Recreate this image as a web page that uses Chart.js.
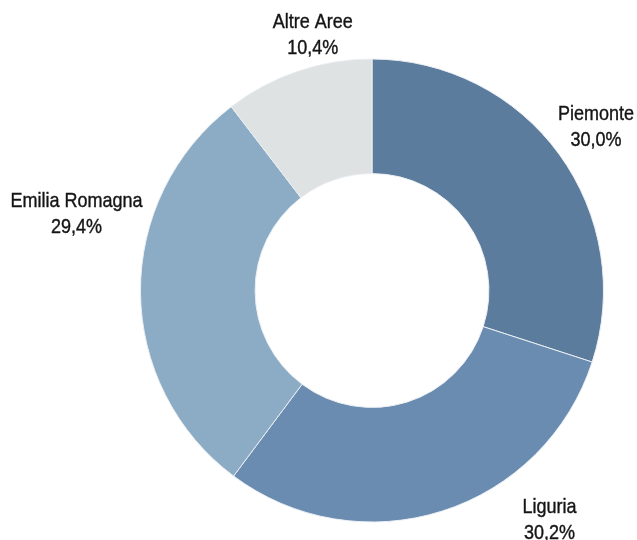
<!DOCTYPE html>
<html><head><meta charset="utf-8">
<script src="https://cdn.jsdelivr.net/npm/chart.js@4/dist/chart.umd.min.js"></script>
<style>html,body{margin:0;padding:0;background:#fff;}#c{display:block;}</style>
</head><body>
<canvas id="c" width="637" height="540"></canvas>
<script>
const categories = ["Piemonte", "Liguria", "Emilia Romagna", "Altre Aree"];
const values = [30.0, 30.2, 29.4, 10.4];
const valueLabels = ["30,0%", "30,2%", "29,4%", "10,4%"];
const colors = ["#5c7c9d", "#6a8cb1", "#8cabc4", "#dfe2e2"];

// label placement (offset from doughnut centre, in units of outer radius) – layout only
const labelPos = [
  {dx: 0.968, dy: -0.736},
  {dx: 0.767, dy: 0.963},
  {dx: -1.276, dy: -0.362},
  {dx: -0.256, dy: -1.135}
];

const labelPlugin = {
  id: 'outerLabels',
  afterDraw(chart) {
    const ctx = chart.ctx;
    const meta = chart.getDatasetMeta(0);
    const arc0 = meta.data[0];
    const cx = arc0.x, cy = arc0.y, R = arc0.outerRadius;
    ctx.save();
    ctx.fillStyle = '#151515';
    ctx.strokeStyle = '#151515';
    ctx.lineWidth = 0.35;
    ctx.textAlign = 'center';
    ctx.textBaseline = 'alphabetic';
    ctx.font = '18px "Liberation Sans", Arial, sans-serif';
    categories.forEach((name, i) => {
      const x = cx + labelPos[i].dx * R;
      const y = cy + labelPos[i].dy * R;
      [name, valueLabels[i]].forEach((t, j) => {
        ctx.save();
        ctx.translate(x, y + j * 26);
        ctx.scale(1, 1.12);
        ctx.fillText(t, 0, 0);
        ctx.strokeText(t, 0, 0);
        ctx.restore();
      });
    });
    ctx.restore();
  }
};

new Chart(document.getElementById('c'), {
  type: 'doughnut',
  data: {
    labels: categories,
    datasets: [{
      data: values,
      backgroundColor: colors,
      borderColor: '#e9eef2',
      borderWidth: 1
    }]
  },
  options: {
    responsive: false,
    animation: false,
    cutout: '50.5%',
    layout: {padding: {top: 58.5, bottom: 17.5, left: 140, right: 33}},
    plugins: {legend: {display: false}, tooltip: {enabled: false}}
  },
  plugins: [labelPlugin]
});
</script>
</body></html>
